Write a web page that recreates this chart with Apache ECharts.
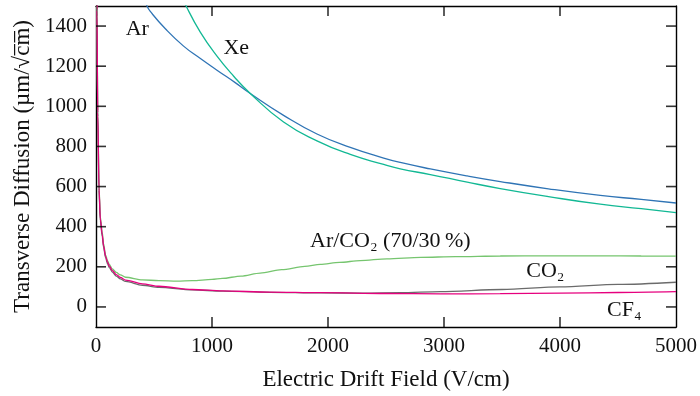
<!DOCTYPE html>
<html>
<head>
<meta charset="utf-8">
<script src="https://cdn.jsdelivr.net/npm/echarts@6.0.0/dist/echarts.min.js"></script>
<style>
  html, body { margin: 0; padding: 0; background: #fff; }
  #chart { width: 700px; height: 396px; }
</style>
</head>
<body>
<div id="chart"></div>
<script>
// transverse diffusion vs drift field

const arField = [300, 440, 468, 600, 755, 900, 1043, 1200, 1330, 1617, 1905, 2192, 2480, 2623, 2882, 3200, 3485, 3900, 4347, 4700, 5000];
const arDiff  = [1690, 1500, 1473, 1385, 1300, 1238, 1180, 1118, 1064, 955, 862, 795, 742, 720, 688, 653, 625, 589, 556, 536, 518];

const xeField = [600, 700, 778, 899, 1043, 1187, 1330, 1617, 1905, 2192, 2480, 2623, 2882, 3200, 3485, 3900, 4347, 4700, 5000];
const xeDiff  = [1740, 1600, 1499, 1370, 1250, 1150, 1064, 922, 828, 760, 710, 688, 660, 622, 590, 550, 512, 490, 470];

const mixField = [5, 8, 15, 26, 37, 54, 65, 83, 100, 115, 141, 175, 210, 255, 400, 543, 700, 830, 1000, 1089, 1250, 1416, 1600, 1800, 1933, 2100, 2278, 2508, 2800, 3100, 3485, 3900, 4347, 4700, 5000];
const mixDiff  = [2600, 1500, 980, 600, 450, 371, 315, 258, 230, 212, 189, 172, 160, 148, 135, 131, 129, 131, 137, 142, 154, 169, 186, 202, 212, 222, 231, 240, 247, 251, 254, 255, 255, 254, 253];

const co2Field = [5, 8, 15, 26, 37, 54, 65, 83, 100, 115, 141, 175, 210, 255, 400, 543, 830, 1089, 1500, 1933, 2300, 2623, 2968, 3500, 4000, 4500, 5000];
const co2Diff  = [2500, 1450, 950, 580, 430, 350, 298, 245, 215, 196, 174, 154, 140, 127, 108, 98, 85, 79, 73, 70, 69, 71, 76, 87, 100, 112, 123];

const cf4Field = [5, 8, 15, 26, 37, 54, 65, 83, 100, 115, 141, 175, 210, 255, 400, 543, 830, 1089, 1500, 1933, 2500, 2968, 3485, 4000, 4500, 5000];
const cf4Diff  = [2550, 1480, 970, 590, 440, 360, 305, 252, 222, 204, 181, 161, 147, 134, 115, 103, 87, 80, 74, 71, 67, 65, 66, 69, 72, 76];

const xTicks = [1000, 2000, 3000, 4000];
const yTicks = [0, 200, 400, 600, 800, 1000, 1200, 1400];

const X_MIN = 0, X_MAX = 5000, Y_MIN = -100, Y_MAX = 1500;
const FONT = 'Liberation Serif';
const TICK_LEN = 10;

function pairs(xs, ys) {
  return xs.map((x, i) => [x, ys[i]]);
}

// text tag sitting on the plot, anchored in data coordinates
function tag(text, coord) {
  return {
    symbol: 'circle',
    symbolSize: 0,
    data: [{
      coord: coord,
      label: {
        show: true,
        position: 'inside',
        formatter: text,
        color: '#111',
        fontFamily: FONT,
        fontSize: 22
      }
    }]
  };
}

function curve(name, data, color, label, coord, steep) {
  const s = {
    name: name,
    type: 'line',
    data: data,
    showSymbol: false,
    smooth: steep ? 0.3 : 0.5,
    clip: true,
    lineStyle: { color: color, width: 1.3 },
    itemStyle: { color: color },
    markPoint: tag(label, coord)
  };
  if (steep) s.smoothMonotone = 'x';
  return s;
}

// inward frame ticks: thin rect symbols sitting on a frame edge, nudged inside
function tickRow(points, size, offset) {
  return {
    type: 'scatter',
    silent: true,
    clip: false,
    z: 6,
    symbol: 'rect',
    symbolSize: size,
    symbolOffset: offset,
    itemStyle: { color: '#000' },
    data: points
  };
}

function xAx(pos, labels) {
  return {
    type: 'value',
    position: pos,
    min: X_MIN, max: X_MAX, interval: 1000,
    axisLine: { show: true, onZero: false, lineStyle: { color: '#000', width: 1.4 } },
    axisTick: { show: false },
    axisLabel: { show: labels, margin: 9, color: '#111', fontFamily: FONT, fontSize: 21, formatter: v => String(v) },
    splitLine: { show: false },
    name: labels ? 'Electric Drift Field (V/cm)' : '',
    nameLocation: 'middle',
    nameGap: 41,
    nameTextStyle: { color: '#111', fontFamily: FONT, fontSize: 23 }
  };
}

function yAx(pos, labels) {
  return {
    type: 'value',
    position: pos,
    min: Y_MIN, max: Y_MAX,
    axisLine: { show: true, onZero: false, lineStyle: { color: '#000', width: 1.4 } },
    axisTick: { show: false },
    axisLabel: {
      show: labels, customValues: yTicks, margin: 9, color: '#111', fontFamily: FONT, fontSize: 21,
      formatter: v => String(v)
    },
    splitLine: { show: false },
    name: labels ? 'Transverse Diffusion (\u00b5m/\u221ac\u0305m\u0305)' : '',
    nameLocation: 'middle',
    nameGap: 61,
    nameTextStyle: { color: '#111', fontFamily: FONT, fontSize: 23 }
  };
}

const chart = echarts.init(document.getElementById('chart'), null, { renderer: 'canvas' });

chart.setOption({
  animation: false,
  grid: { left: 96, right: 24, top: 6, bottom: 68 },
  xAxis: [xAx('bottom', true), xAx('top', false)],
  yAxis: [yAx('left', true), yAx('right', false)],
  series: [
    curve('Ar', pairs(arField, arDiff), '#2f74b5', 'Ar', [356, 1383], false),
    curve('Xe', pairs(xeField, xeDiff), '#12b894', 'Xe', [1209, 1289], false),
    curve('Ar/CO2', pairs(mixField, mixDiff), '#76c56f', 'Ar/CO\u2082 (70/30\u2009%)', [2537, 330], true),
    curve('CO2', pairs(co2Field, co2Diff), '#6b6b6b', 'CO\u2082', [3874, 179], true),
    curve('CF4', pairs(cf4Field, cf4Diff), '#e6007e', 'CF\u2084', [4554, -15], true),
    tickRow(xTicks.map(v => [v, Y_MIN]), [1.6, TICK_LEN], [0, -TICK_LEN / 2]),
    tickRow(xTicks.map(v => [v, Y_MAX]), [1.6, TICK_LEN], [0, TICK_LEN / 2]),
    tickRow(yTicks.map(v => [X_MIN, v]), [TICK_LEN, 1.6], [TICK_LEN / 2, 0]),
    tickRow(yTicks.map(v => [X_MAX, v]), [TICK_LEN, 1.6], [-TICK_LEN / 2, 0])
  ]
});
</script>
</body>
</html>
